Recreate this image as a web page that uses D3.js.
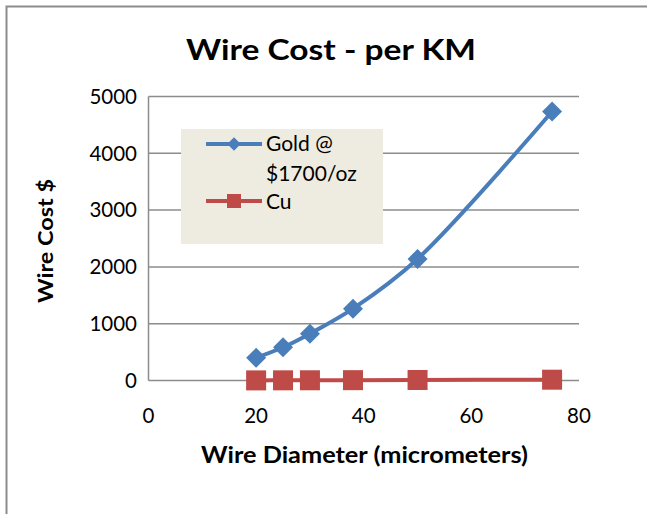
<!DOCTYPE html>
<html><head><meta charset="utf-8">
<script src="https://cdn.jsdelivr.net/npm/d3@7"></script>
<style>body{margin:0;background:#fff;} svg{display:block;font-family:Lato,"Open Sans",sans-serif;}</style>
</head><body>
<svg id="c" width="647" height="514"></svg>
<script>
const diameters = [20, 25, 30, 38, 50, 75];
const goldCost = [400, 585, 825, 1265, 2140, 4735];
const cuCost = [2, 3, 4, 6, 9, 14];
const xTicks = [0, 20, 40, 60, 80];
const yTicks = [0, 1000, 2000, 3000, 4000, 5000];
const seriesNames = ["Gold @", "$1700/oz", "Cu"];

const svg = d3.select("#c");
svg.append("rect").attr("x",6.5).attr("y",6.5).attr("width",700).attr("height",600)
  .attr("fill","#fff").attr("stroke","#8c8c8c").attr("stroke-width",2);

const x = d3.scaleLinear().domain([0,80]).range([148.5,579]);
const y = d3.scaleLinear().domain([0,5000]).range([380.5,96.5]);

// gridlines
svg.append("g").selectAll("line").data(yTicks.filter(d=>d>0)).join("line")
  .attr("x1",x(0)).attr("x2",x(80)).attr("y1",d=>y(d)).attr("y2",d=>y(d))
  .attr("stroke","#8c8c8c").attr("stroke-width",1.5);
// axes lines
svg.append("line").attr("x1",x(0)).attr("x2",x(0)).attr("y1",y(0)).attr("y2",y(5000))
  .attr("stroke","#8c8c8c").attr("stroke-width",1.5);
svg.append("line").attr("x1",x(0)).attr("x2",x(80)).attr("y1",y(0)).attr("y2",y(0))
  .attr("stroke","#8c8c8c").attr("stroke-width",1.5);

// tick labels
svg.append("g").selectAll("text").data(yTicks).join("text")
  .attr("x",137).attr("y",d=>y(d)).attr("dy","0.36em").attr("text-anchor","end")
  .attr("font-size",20.5).attr("fill","#000").text(d=>d);
svg.append("g").selectAll("text").data(xTicks).join("text")
  .attr("x",d=>x(d)).attr("y",423).attr("text-anchor","middle")
  .attr("font-size",20.5).attr("fill","#000").text(d=>d);

// titles
svg.append("text").attr("x",186).attr("y",60)
  .attr("font-size",29).attr("font-weight","bold")
  .attr("textLength",290).attr("lengthAdjust","spacingAndGlyphs").text("Wire Cost - per KM");
svg.append("text").attr("x",201).attr("y",463)
  .attr("font-size",22).attr("font-weight","bold")
  .attr("textLength",327).attr("lengthAdjust","spacingAndGlyphs").text("Wire Diameter (micrometers)");
svg.append("text").attr("transform","translate(53,303) rotate(-90)")
  .attr("font-size",21).attr("font-weight","bold")
  .attr("textLength",124).attr("lengthAdjust","spacingAndGlyphs").text("Wire Cost $");

const blue = "#4a7ebb", red = "#be4b48";
const gold = diameters.map((d,i)=>[d,goldCost[i]]);
const cu = diameters.map((d,i)=>[d,cuCost[i]]);
const line = d3.line().x(d=>x(d[0])).y(d=>y(d[1])).curve(d3.curveCatmullRom.alpha(0.5));

svg.append("path").attr("d",line(cu)).attr("fill","none").attr("stroke",red).attr("stroke-width",4);
svg.append("g").selectAll("rect").data(cu).join("rect")
  .attr("x",d=>x(d[0])-10).attr("y",d=>y(d[1])-10).attr("width",20).attr("height",20)
  .attr("fill",red);

svg.append("path").attr("d",line(gold)).attr("fill","none").attr("stroke",blue).attr("stroke-width",4);
svg.append("g").selectAll("path").data(gold).join("path")
  .attr("d",d3.symbol(d3.symbolSquare,200))
  .attr("transform",d=>`translate(${x(d[0])},${y(d[1])}) rotate(45)`)
  .attr("fill",blue);

// legend
const lg = svg.append("g");
lg.append("rect").attr("x",181).attr("y",129).attr("width",202).attr("height",115).attr("fill","#eeece1");
lg.append("line").attr("x1",206).attr("x2",262).attr("y1",144).attr("y2",144).attr("stroke",blue).attr("stroke-width",4);
lg.append("path").attr("d",d3.symbol(d3.symbolSquare,90)).attr("transform","translate(234,144) rotate(45)").attr("fill",blue);
lg.append("line").attr("x1",206).attr("x2",262).attr("y1",201).attr("y2",201).attr("stroke",red).attr("stroke-width",4);
lg.append("rect").attr("x",227).attr("y",194).attr("width",14).attr("height",14).attr("fill",red);
lg.append("text").attr("x",266).attr("y",151).attr("font-size",21).text(seriesNames[0]);
lg.append("text").attr("x",266).attr("y",181).attr("font-size",21).text(seriesNames[1]);
lg.append("text").attr("x",266).attr("y",209).attr("font-size",21).text(seriesNames[2]);
</script>
</body></html>
